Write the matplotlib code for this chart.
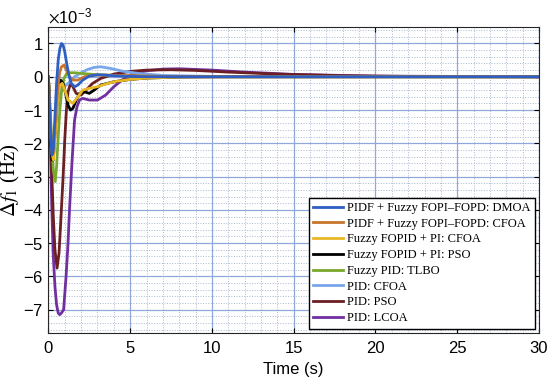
import numpy as np
import matplotlib.pyplot as plt
from matplotlib.ticker import MultipleLocator
plt.switch_backend('agg')

# frequency deviation (x1e-3 Hz)
t_dmoa = [0, 0.08, 0.15, 0.22, 0.3, 0.4, 0.5, 0.6, 0.7, 0.8, 0.9, 1.0, 1.1, 1.25, 1.4, 1.6, 1.8, 2.1, 2.5, 3.0, 3.5, 4, 5, 6, 8, 10, 15, 30]
f_dmoa = [0, -1.0, -1.9, -2.35, -2.2, -1.2, -0.2, 0.5, 0.85, 1.0, 0.95, 0.75, 0.45, 0.05, -0.2, -0.3, -0.25, -0.1, 0.02, 0.06, 0.05, 0.03, 0.01, 0, 0, 0, 0, 0]

t_cfoa1 = [0, 0.08, 0.15, 0.22, 0.3, 0.4, 0.5, 0.6, 0.7, 0.8, 0.95, 1.1, 1.3, 1.5, 1.8, 2.2, 2.8, 3.5, 5, 7, 10, 30]
f_cfoa1 = [0, -0.9, -1.7, -2.2, -2.3, -1.6, -0.8, -0.2, 0.15, 0.3, 0.35, 0.2, 0.0, -0.1, -0.1, 0.0, 0.05, 0.05, 0.03, 0.01, 0, 0]

t_cfoa2 = [0, 0.08, 0.15, 0.22, 0.3, 0.4, 0.5, 0.6, 0.7, 0.85, 1.0, 1.2, 1.5, 1.8, 2.1, 2.5, 3.0, 3.5, 4.0, 5, 6, 8, 10, 30]
f_cfoa2 = [0, -0.9, -1.7, -2.3, -2.5, -1.9, -1.1, -0.5, -0.25, -0.2, -0.4, -0.7, -0.8, -0.6, -0.4, -0.35, -0.3, -0.22, -0.15, -0.08, -0.04, -0.01, 0, 0]

t_pso1 = [0, 0.08, 0.15, 0.22, 0.3, 0.4, 0.5, 0.6, 0.75, 0.9, 1.05, 1.2, 1.35, 1.5, 1.7, 1.9, 2.2, 2.5, 2.8, 3.2, 3.6, 4.0, 5, 6, 8, 10, 30]
f_pso1 = [0, -1.0, -1.9, -2.5, -2.5, -1.7, -0.9, -0.35, -0.1, -0.2, -0.5, -0.85, -1.0, -0.95, -0.7, -0.5, -0.45, -0.5, -0.4, -0.25, -0.2, -0.15, -0.08, -0.04, -0.01, 0, 0]

t_tlbo = [0, 0.1, 0.2, 0.3, 0.42, 0.5, 0.6, 0.7, 0.8, 0.95, 1.1, 1.3, 1.6, 2.0, 2.5, 3, 4, 5, 7, 10, 30]
f_tlbo = [0, -0.9, -1.9, -2.8, -3.15, -2.7, -1.8, -1.0, -0.45, -0.05, 0.08, 0.12, 0.12, 0.1, 0.08, 0.06, 0.04, 0.02, 0.01, 0, 0]

t_cfoa3 = [0, 0.08, 0.15, 0.22, 0.3, 0.4, 0.5, 0.6, 0.75, 0.9, 1.1, 1.3, 1.6, 2.0, 2.4, 2.8, 3.2, 3.8, 4.5, 5.5, 7, 10, 30]
f_cfoa3 = [0, -0.9, -1.7, -2.2, -2.3, -1.8, -1.2, -0.7, -0.4, -0.3, -0.25, -0.15, 0.0, 0.12, 0.22, 0.28, 0.3, 0.25, 0.17, 0.1, 0.04, 0.01, 0]

t_pso2 = [0, 0.1, 0.2, 0.3, 0.4, 0.53, 0.65, 0.75, 0.9, 1.0, 1.1, 1.2, 1.35, 1.5, 1.7, 2.0, 2.3, 2.7, 3.2, 4, 5, 6, 7.5, 9, 11, 14, 18, 22, 30]
f_pso2 = [0, -1.2, -2.8, -4.2, -5.2, -5.75, -5.3, -4.4, -3.0, -1.9, -1.0, -0.45, -0.2, -0.3, -0.5, -0.55, -0.4, -0.2, -0.05, 0.08, 0.16, 0.2, 0.21, 0.19, 0.14, 0.08, 0.03, 0.01, 0]

t_lcoa = [0, 0.06, 0.12, 0.2, 0.29, 0.4, 0.5, 0.6, 0.69, 0.8, 0.93, 1.08, 1.2, 1.29, 1.45, 1.6, 1.75, 1.9, 2.1, 2.5, 3.0, 3.5, 4.0, 4.5, 5, 6, 7, 8, 10, 12, 15, 20, 30]
f_lcoa = [0, -1.0, -2.0, -3.8, -5.3, -6.3, -6.85, -7.1, -7.15, -7.1, -7.0, -6.0, -5.0, -4.0, -2.5, -1.3, -0.9, -0.7, -0.65, -0.7, -0.7, -0.55, -0.3, -0.1, 0.05, 0.18, 0.23, 0.24, 0.2, 0.14, 0.07, 0.02, 0]

labels = ['PIDF + Fuzzy FOPI\u2013FOPD: DMOA', 'PIDF + Fuzzy FOPI\u2013FOPD: CFOA',
          'Fuzzy FOPID + PI: CFOA', 'Fuzzy FOPID + PI: PSO', 'Fuzzy PID: TLBO',
          'PID: CFOA', 'PID: PSO', 'PID: LCOA']
colors = ['#2f5fc2', '#c8762c', '#e8b826', '#000000', '#7aa82e', '#78a6ea', '#6b1f22', '#7030a0']
series = [(t_dmoa, f_dmoa), (t_cfoa1, f_cfoa1), (t_cfoa2, f_cfoa2), (t_pso1, f_pso1),
          (t_tlbo, f_tlbo), (t_cfoa3, f_cfoa3), (t_pso2, f_pso2), (t_lcoa, f_lcoa)]

plt.rcParams['mathtext.fontset'] = 'stix'
fig = plt.figure(figsize=(5.5, 3.89), dpi=100)
ax = fig.add_axes([0.088, 0.144, 0.892, 0.787])

# draw last entries underneath
lines = {}
for i in range(len(series))[::-1]:
    t, f = series[i]
    lines[i], = ax.plot(t, np.array(f) * 1e-3, color=colors[i], lw=2.0, label=labels[i])

ax.set_xlim(0, 30)
ax.set_ylim(-7.7e-3, 1.5e-3)
ax.xaxis.set_major_locator(MultipleLocator(5))
ax.xaxis.set_minor_locator(MultipleLocator(1))
ax.yaxis.set_major_locator(MultipleLocator(1e-3))
ax.yaxis.set_minor_locator(MultipleLocator(0.2e-3))
ax.ticklabel_format(axis='y', style='sci', scilimits=(-3, -3), useMathText=True)
ax.yaxis.get_offset_text().set_fontsize(12)
ax.yaxis.get_offset_text().set_family('Liberation Sans')

ax.grid(which='major', color='#90a8d8', lw=0.9, ls='-')
ax.grid(which='minor', color='#a8b8d0', lw=0.7, ls=':')
ax.set_axisbelow(True)
ax.tick_params(which='both', direction='in', top=True, right=True, labelsize=12)
ax.tick_params(axis='x', pad=6)
ax.tick_params(which='minor', length=0)
for lab in ax.get_xticklabels() + ax.get_yticklabels():
    lab.set_family('Liberation Sans')
for s in ax.spines.values():
    s.set_color('#262626')

ax.set_xlabel('Time (s)', fontsize=12, family='Liberation Sans', labelpad=4)
ax.set_ylabel(r'$\Delta f_1$ (Hz)', fontsize=15, family='Liberation Serif', labelpad=1)

leg = ax.legend([lines[i] for i in range(len(series))], labels, loc='lower right',
                prop={'family': 'Liberation Serif', 'size': 9}, frameon=True, fancybox=False,
                edgecolor='black', framealpha=1, borderpad=0.35, labelspacing=0.3,
                handlelength=2.4, handletextpad=0.3, borderaxespad=0.35)
leg.get_frame().set_linewidth(1.0)

fig.savefig('out.png', dpi=100)
